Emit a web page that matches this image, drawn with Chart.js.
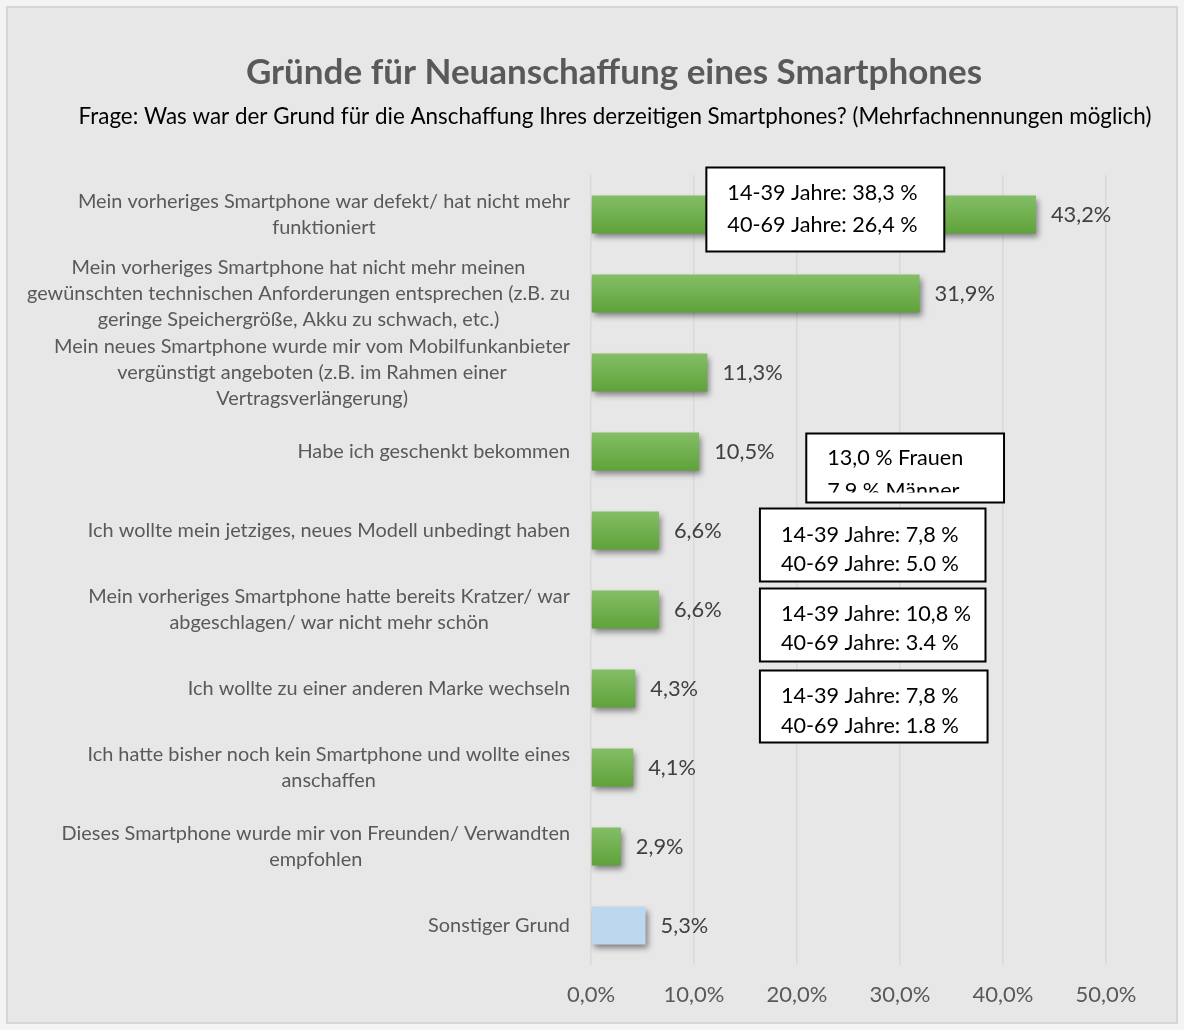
<!DOCTYPE html>
<html lang="de">
<head>
<meta charset="utf-8">
<title>Gründe für Neuanschaffung eines Smartphones</title>
<script src="https://cdn.jsdelivr.net/npm/chart.js@4.4.1/dist/chart.umd.min.js"></script>
<style>
    html, body { margin: 0; padding: 0; background: #f4f4f4; }
    #frame {
        position: absolute; left: 6px; top: 6px;
        width: 1172px; height: 1018px;
        box-sizing: border-box;
        background: #e7e7e7;
        border: 2px solid #d6d6d6;
    }
    #wrap { position: absolute; left: 0; top: 0; width: 1184px; height: 1030px; }
</style>
</head>
<body>
<div id="frame"></div>
<div id="wrap"><canvas id="barChart"></canvas></div>
<script>
/* ===================================================
   DATEN
=================================================== */

const titel = "Gründe für Neuanschaffung eines Smartphones";
const untertitel = "Frage: Was war der Grund für die Anschaffung Ihres derzeitigen Smartphones? (Mehrfachnennungen möglich)";

const kategorien = [
    ["Mein vorheriges Smartphone war defekt/ hat nicht mehr", "funktioniert"],
    ["Mein vorheriges Smartphone hat nicht mehr meinen", "gewünschten technischen Anforderungen entsprechen (z.B. zu", "geringe Speichergröße, Akku zu schwach, etc.)"],
    ["Mein neues Smartphone wurde mir vom Mobilfunkanbieter", "vergünstigt angeboten (z.B. im Rahmen einer", "Vertragsverlängerung)"],
    ["Habe ich geschenkt bekommen"],
    ["Ich wollte mein jetziges, neues Modell unbedingt haben"],
    ["Mein vorheriges Smartphone hatte bereits Kratzer/ war", "abgeschlagen/ war nicht mehr schön"],
    ["Ich wollte zu einer anderen Marke wechseln"],
    ["Ich hatte bisher noch kein Smartphone und wollte eines", "anschaffen"],
    ["Dieses Smartphone wurde mir von Freunden/ Verwandten", "empfohlen"],
    ["Sonstiger Grund"]
];

const anteile = [43.2, 31.9, 11.3, 10.5, 6.6, 6.6, 4.3, 4.1, 2.9, 5.3];

const xTicks = [0, 10, 20, 30, 40, 50];

// Zusatzinfos (Textkästen): Kategorie-Index und Text
const infoIndex = [0, 3, 4, 5, 6];
const infoTexte = [
    ["14-39 Jahre: 38,3 %", "40-69 Jahre: 26,4 %"],
    ["13,0 % Frauen", "7,9 % Männer"],
    ["14-39 Jahre: 7,8 %", "40-69 Jahre: 5.0 %"],
    ["14-39 Jahre: 10,8 %", "40-69 Jahre: 3.4 %"],
    ["14-39 Jahre: 7,8 %", "40-69 Jahre: 1.8 %"]
];

/* ===================================================
   LAYOUT / STIL
=================================================== */

const FONT = "Lato, 'Open Sans', sans-serif";
const GRUEN_OBEN = "#84be66";
const GRUEN_UNTEN = "#5fa23a";
const BLAU = "#bdd7ee";
const BAR_ANTEIL = 0.48;

// Kastenlage: x in Achsenwerten, y relativ zur Kategoriemitte
const infoBoxen = [
    { x0: 11.2, x1: 34.3, top: -47, bottom: 37, tx: 21, lines: [-21, 11], clip: 1 },
    { x0: 20.9, x1: 40.1, top: -18, bottom: 51, tx: 21, lines: [7, 40], clip: 10 },
    { x0: 16.4, x1: 38.3, top: -22, bottom: 51, tx: 21, lines: [5, 34], clip: 1 },
    { x0: 16.4, x1: 38.3, top: -21, bottom: 52, tx: 21, lines: [5, 34], clip: 1 },
    { x0: 16.4, x1: 38.5, top: -18, bottom: 54, tx: 21, lines: [8, 38], clip: 1 }
];

function fmt(v) {
    return v.toFixed(1).replace(".", ",") + "%";
}

/**
 * Farbverlauf je Balken (letzter Balken hellblau)
 */
function balkenFarbe(c) {
    if (c.dataIndex === anteile.length - 1) return BLAU;
    const chart = c.chart;
    const y = chart.scales && chart.scales.y;
    if (!y || !chart.chartArea) return GRUEN_UNTEN;
    const mitte = y.getPixelForValue(c.dataIndex);
    const h = (y.bottom - y.top) / anteile.length * BAR_ANTEIL / 2;
    const g = chart.ctx.createLinearGradient(0, mitte - h, 0, mitte + h);
    g.addColorStop(0, GRUEN_OBEN);
    g.addColorStop(1, GRUEN_UNTEN);
    return g;
}

/* ===================================================
   PLUGINS
=================================================== */

const balkenSchatten = {
    id: "balkenSchatten",
    beforeDatasetsDraw(chart) {
        const ctx = chart.ctx;
        ctx.save();
        ctx.shadowColor = "rgba(0,0,0,0.45)";
        ctx.shadowBlur = 6;
        ctx.shadowOffsetX = 2;
        ctx.shadowOffsetY = 4;
    },
    afterDatasetsDraw(chart) {
        chart.ctx.restore();
    }
};

const beschriftung = {
    id: "beschriftung",
    afterDraw(chart) {
        const ctx = chart.ctx;
        const yScale = chart.scales.y;
        const xScale = chart.scales.x;
        const meta = chart.getDatasetMeta(0);

        ctx.save();
        ctx.textAlign = "center";
        ctx.textBaseline = "middle";

        // Titel und Frage
        ctx.font = "bold 35px " + FONT;
        ctx.fillStyle = "#595959";
        ctx.fillText(titel, 614, 73);
        ctx.font = "22.4px " + FONT;
        ctx.fillStyle = "#000";
        ctx.fillText(untertitel, 615, 117);

        // Kategorien links, rechtsbündiger Block, Zeilen zentriert
        ctx.font = "19.9px " + FONT;
        ctx.fillStyle = "#595959";
        const rechts = chart.chartArea.left - 21;
        kategorien.forEach((zeilen, i) => {
            const w = Math.max(...zeilen.map((z) => ctx.measureText(z).width));
            const cx = rechts - w / 2;
            const cy = yScale.getPixelForValue(i);
            const lh = 26;
            zeilen.forEach((z, k) => {
                ctx.fillText(z, cx, cy + (k - (zeilen.length - 1) / 2) * lh);
            });
        });

        // Werte neben den Balken
        ctx.font = "21.8px " + FONT;
        ctx.fillStyle = "#404040";
        ctx.textAlign = "left";
        meta.data.forEach((bar, i) => {
            ctx.fillText(fmt(anteile[i]), bar.x + 15, bar.y);
        });

        // Textkästen
        ctx.font = "21.6px " + FONT;
        infoBoxen.forEach((b, n) => {
            const cy = yScale.getPixelForValue(infoIndex[n]);
            const x0 = xScale.getPixelForValue(b.x0);
            const x1 = xScale.getPixelForValue(b.x1);
            const y0 = cy + b.top;
            const y1 = cy + b.bottom;
            ctx.fillStyle = "#fff";
            ctx.fillRect(x0, y0, x1 - x0, y1 - y0);
            ctx.save();
            ctx.beginPath();
            ctx.rect(x0, y0, x1 - x0, y1 - y0 - b.clip);
            ctx.clip();
            ctx.fillStyle = "#000";
            infoTexte[n].forEach((t, k) => {
                ctx.fillText(t, x0 + b.tx, cy + b.lines[k]);
            });
            ctx.restore();
            ctx.strokeStyle = "#000";
            ctx.lineWidth = 2;
            ctx.strokeRect(x0, y0, x1 - x0, y1 - y0);
        });
        ctx.restore();
    }
};

/* ===================================================
   DIAGRAMM
=================================================== */

const ctx = document.getElementById("barChart").getContext("2d");

new Chart(ctx, {
    type: "bar",
    data: {
        labels: kategorien,
        datasets: [
            {
                data: anteile,
                backgroundColor: balkenFarbe,
                borderWidth: 0,
                categoryPercentage: 1,
                barPercentage: BAR_ANTEIL
            }
        ]
    },
    options: {
        indexAxis: "y",
        responsive: true,
        maintainAspectRatio: false,
        animation: false,
        layout: {
            padding: { left: 122, right: 78, top: 175, bottom: 15 }
        },
        plugins: {
            legend: { display: false },
            tooltip: { enabled: false },
            title: { display: false }
        },
        scales: {
            x: {
                min: 0,
                max: 50,
                afterBuildTicks(scale) {
                    scale.ticks = xTicks.map((v) => ({ value: v }));
                },
                afterFit(scale) {
                    scale.height = 50;
                },
                ticks: {
                    padding: 17,
                    color: "#595959",
                    font: { family: FONT, size: 22 },
                    callback: (v) => fmt(v)
                },
                grid: {
                    color: "#d9d9d9",
                    lineWidth: 1.5,
                    drawTicks: false
                },
                border: { display: false }
            },
            y: {
                afterFit(scale) {
                    scale.width = 469;
                },
                ticks: { display: false },
                grid: { display: false },
                border: { display: false }
            }
        }
    },
    plugins: [balkenSchatten, beschriftung]
});
</script>
</body>
</html>
